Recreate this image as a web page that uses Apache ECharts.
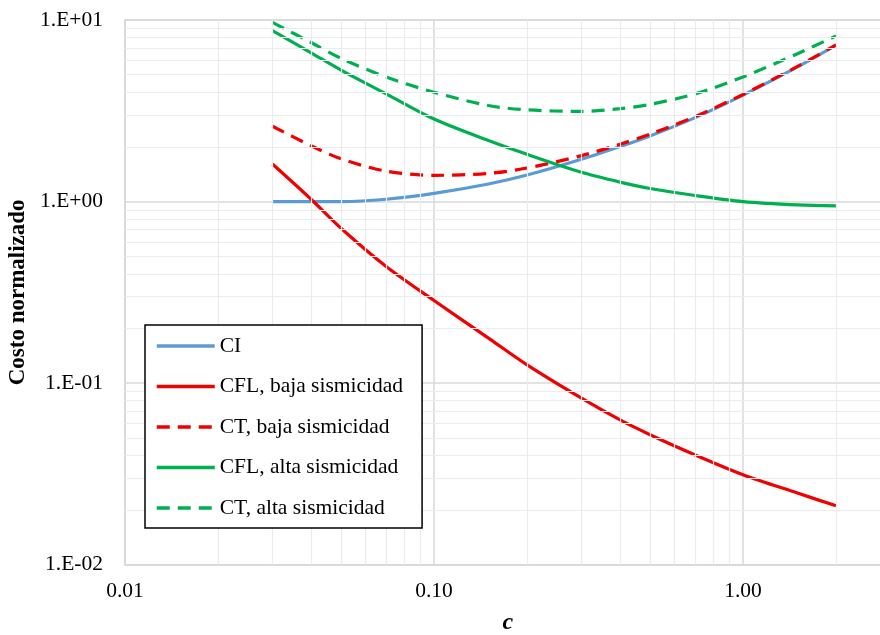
<!DOCTYPE html>
<html>
<head>
<meta charset="utf-8">
<script src="https://cdn.jsdelivr.net/npm/echarts@6/dist/echarts.min.js"></script>
<style>html,body{margin:0;padding:0;background:#fff}#c{width:880px;height:635px}</style>
</head>
<body>
<div id="c"></div>
<script>
// ---- data ----
const cValues = [0.03, 0.04, 0.05, 0.07, 0.1, 0.15, 0.2, 0.3, 0.4, 0.5, 0.7, 1.0, 1.5, 2.0];
const CI      = [1.00, 1.00, 1.00, 1.03, 1.11, 1.25, 1.40, 1.71, 2.01, 2.30, 2.90, 3.86, 5.52, 7.28];
const CFL_baja= [1.61, 1.03, 0.713, 0.439, 0.285, 0.177, 0.126, 0.0826, 0.0627, 0.052, 0.0402, 0.0313, 0.0248, 0.0211];
const CT_baja = [2.60, 2.03, 1.72, 1.47, 1.395, 1.43, 1.53, 1.79, 2.07, 2.35, 2.94, 3.89, 5.55, 7.30];
const CFL_alta= [8.73, 6.60, 5.30, 3.92, 2.85, 2.17, 1.82, 1.45, 1.28, 1.18, 1.08, 1.00, 0.958, 0.946];
const CT_alta = [9.70, 7.52, 6.15, 4.85, 4.00, 3.38, 3.20, 3.14, 3.25, 3.43, 3.92, 4.86, 6.52, 8.18];

const seriesNames = ['CI', 'CFL, baja sismicidad', 'CT, baja sismicidad', 'CFL, alta sismicidad', 'CT, alta sismicidad'];

const xTickValues = [0.01, 0.1, 1];
const xTickLabels = ['0.01', '0.10', '1.00'];
const yTickValues = [0.01, 0.1, 1, 10];
const yTickLabels = ['1.E-02', '1.E-01', '1.E+00', '1.E+01'];

const xMinorGrid = [0.02,0.03,0.04,0.05,0.06,0.07,0.08,0.09,0.2,0.3,0.4,0.5,0.6,0.7,0.8,0.9,2];
const yMinorGrid = [0.02,0.03,0.04,0.05,0.06,0.07,0.08,0.09,0.2,0.3,0.4,0.5,0.6,0.7,0.8,0.9,2,3,4,5,6,7,8,9];

// ---- chart ----
const FONT = '"Liberation Serif", "Times New Roman", serif';
function pairs(ys){ return cValues.map((x,i)=>[x, ys[i]]); }
function labelFor(vals, labels, v){
  for (let i=0;i<vals.length;i++){ if (Math.abs(Math.log10(vals[i]) - Math.log10(v)) < 1e-6) return labels[i]; }
  return '';
}
const BLUE = '#5B9BD5', RED = '#F00000', GREEN = '#00B050';
function lineSeries(name, data, color, dashed){
  return {
    name, type:'line', data: pairs(data), smooth: 0.3, symbol:'none', showSymbol:false, z: 3,
    lineStyle:{ color, width: 3.2, type: dashed ? [13, 8] : 'solid' },
    itemStyle:{ color }
  };
}
const chart = echarts.init(document.getElementById('c'), null, {renderer:'canvas'});
chart.setOption({
  animation:false,
  backgroundColor:'#ffffff',
  grid:{ left:125, top:20, width:765.5, height:544.7, show:true, borderColor:'#d9d9d9', borderWidth:1.5,
         containLabel:false, outerBoundsMode:'none' },
  xAxis:{
    type:'log', logBase:10, min:0.01, max:3, interval:1,
    name:'c', nameLocation:'middle', nameGap:46,
    nameTextStyle:{ fontFamily:FONT, fontSize:24, fontWeight:'bold', fontStyle:'italic', color:'#000' },
    axisLine:{ show:true, lineStyle:{ color:'#d9d9d9', width:1.5 } },
    axisTick:{ show:false },
    axisLabel:{ fontFamily:FONT, fontSize:21.5, color:'#000', margin:16, showMaxLabel:false,
      formatter: v => labelFor(xTickValues, xTickLabels, v) },
    splitLine:{ show:true, lineStyle:{ color:'#d9d9d9', width:1.5 } }
  },
  yAxis:{
    type:'log', logBase:10, min:0.01, max:10, interval:1,
    name:'Costo normalizado', nameLocation:'middle', nameGap:93, nameRotate:90,
    nameTextStyle:{ fontFamily:FONT, fontSize:23, fontWeight:'bold', color:'#000' },
    axisLine:{ show:true, lineStyle:{ color:'#d9d9d9', width:1.5 } },
    axisTick:{ show:false },
    axisLabel:{ fontFamily:FONT, fontSize:21.5, color:'#000', margin:22,
      formatter: v => labelFor(yTickValues, yTickLabels, v) },
    splitLine:{ show:true, lineStyle:{ color:'#d9d9d9', width:1.5 } }
  },
  legend:{
    orient:'vertical', left:145, top:325, z:20, zlevel:0,
    data: seriesNames,
    itemWidth:58, itemHeight:2, itemGap:18.5,
    padding:[10, 19, 9, 10],
    lineStyle:{ width:3.5 },
    backgroundColor:'#ffffff', borderColor:'#000000', borderWidth:1.5, borderRadius:0,
    textStyle:{ fontFamily:FONT, fontSize:21.5, color:'#000', lineHeight:22 }
  },
  series:[
    { name:'grid-minor', type:'line', data:[], z:1, silent:true,
      markLine:{ silent:true, symbol:['none','none'], label:{show:false}, animation:false,
        lineStyle:{ color:'#ececec', width:1.2, type:'solid' },
        data: xMinorGrid.map(v=>({xAxis:v})).concat(yMinorGrid.map(v=>({yAxis:v}))) } },
    lineSeries(seriesNames[0], CI, BLUE, false),
    lineSeries(seriesNames[1], CFL_baja, RED, false),
    lineSeries(seriesNames[2], CT_baja, RED, true),
    lineSeries(seriesNames[3], CFL_alta, GREEN, false),
    lineSeries(seriesNames[4], CT_alta, GREEN, true)
  ]
});
</script>
</body>
</html>
